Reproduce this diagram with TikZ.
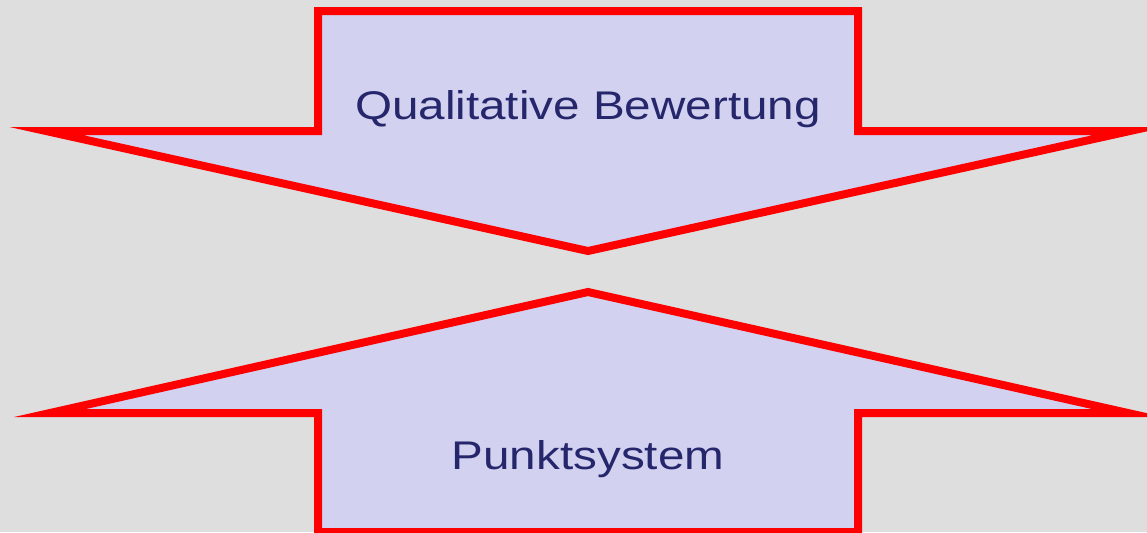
\documentclass[tikz,border=0pt]{standalone}
\usepackage{fontspec}
\setmainfont{Liberation Sans}
\newfontfamily\labelfont[FakeStretch=1.19]{Liberation Sans}
\definecolor{paper}{HTML}{DEDEDE}
\definecolor{arrowfill}{HTML}{D2D2F0}
\definecolor{rim}{HTML}{FF0000}
\definecolor{ink}{HTML}{26266C}
\tikzset{
  bigarrow/.style={draw=rim,fill=arrowfill,line width=4pt,line join=miter},
  arrowtext/.style={text=ink,anchor=base,inner sep=0pt,font=\labelfont\fontsize{20pt}{24pt}\selectfont}
}
\begin{document}
\begin{tikzpicture}[x=0.5pt,y=-0.5pt]
    % frame in pixels of the source picture, y runs down
    \fill[paper] (0,0) rectangle (1147,532);
    \useasboundingbox (0,0) rectangle (1147,532);

    % upper arrow, pointing down
    \draw[bigarrow] (318,11) -- (858,11) -- (858,131) -- (1130,131) --
      (588,251) -- (46,131) -- (318,131) -- cycle;
    % lower arrow, pointing up
    \draw[bigarrow] (588,292) -- (1128,413) -- (858,413) -- (858,532) --
      (318,532) -- (318,413) -- (50,413) -- cycle;

    \node[arrowtext] (quali) at (588,119) {Qualitative Bewertung};
    \node[arrowtext] (punkte) at (588,469) {Punktsystem};
\end{tikzpicture}
\end{document}
